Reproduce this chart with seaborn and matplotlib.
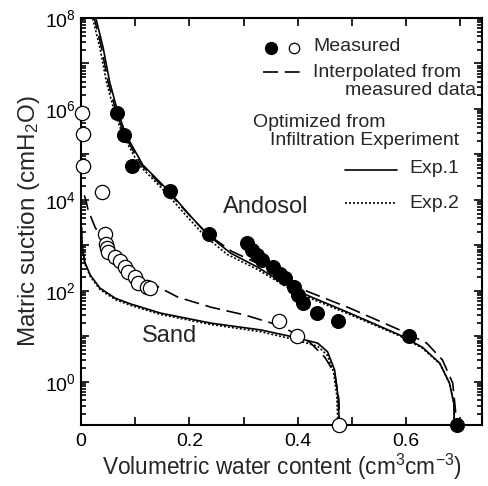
import numpy as np
import pandas as pd
import matplotlib
matplotlib.use("Agg")
import matplotlib.pyplot as plt
from matplotlib.ticker import LogLocator, FixedLocator, NullFormatter
from matplotlib.lines import Line2D
import seaborn as sns

# measured points (volumetric water content, log10 suction)
andosol_x = [0.066, 0.079, 0.094, 0.164, 0.236, 0.306, 0.315, 0.324, 0.334, 0.354,
             0.367, 0.376, 0.394, 0.400, 0.409, 0.435, 0.474, 0.605, 0.693]
andosol_logh = [5.91, 5.43, 4.75, 4.19, 3.25, 3.05, 2.90, 2.79, 2.68, 2.52,
                2.37, 2.28, 2.08, 1.91, 1.73, 1.51, 1.34, 1.01, -0.95]
sand_x = [0.001, 0.004, 0.003, 0.039, 0.044, 0.046, 0.048, 0.050, 0.063, 0.072,
          0.081, 0.087, 0.100, 0.105, 0.122, 0.127, 0.365, 0.398, 0.476]
sand_logh = [5.91, 5.44, 4.75, 4.17, 3.25, 3.03, 2.94, 2.85, 2.74, 2.66,
             2.52, 2.41, 2.30, 2.17, 2.08, 2.06, 1.34, 1.01, -0.95]

# curves
and_exp1_x = [0.026, 0.041, 0.053, 0.068, 0.083, 0.114, 0.164, 0.197, 0.234, 0.276,
              0.326, 0.394, 0.496, 0.588, 0.630, 0.662, 0.680, 0.688, 0.689]
and_exp1_logh = [8.07, 7.34, 6.59, 5.93, 5.43, 4.77, 4.17, 3.71, 3.23, 2.83,
                 2.52, 2.02, 1.51, 1.03, 0.76, 0.41, -0.03, -0.47, -0.95]
and_interp_x = [0.023, 0.038, 0.050, 0.065, 0.080, 0.111, 0.161, 0.195, 0.233, 0.278,
                0.330, 0.394, 0.496, 0.588, 0.638, 0.667, 0.686, 0.691, 0.692]
and_interp_logh = [8.07, 7.34, 6.59, 5.93, 5.43, 4.77, 4.17, 3.73, 3.25, 2.87,
                   2.58, 2.10, 1.62, 1.14, 0.85, 0.48, -0.03, -0.62, -0.95]
and_exp2_x = [0.020, 0.035, 0.047, 0.062, 0.077, 0.107, 0.156, 0.190, 0.228, 0.270,
              0.326, 0.394, 0.496, 0.588, 0.630, 0.662, 0.680, 0.688, 0.689]
and_exp2_logh = [8.07, 7.34, 6.59, 5.93, 5.43, 4.77, 4.17, 3.71, 3.21, 2.80,
                 2.47, 1.98, 1.48, 1.01, 0.74, 0.40, -0.03, -0.47, -0.95]

sand_exp1_x = [0.001, 0.002, 0.007, 0.017, 0.035, 0.063, 0.092, 0.147, 0.240, 0.332,
               0.394, 0.437, 0.455, 0.468, 0.474, 0.477]
sand_exp1_logh = [3.40, 3.01, 2.63, 2.35, 2.06, 1.84, 1.71, 1.51, 1.29, 1.14,
                  0.98, 0.85, 0.66, 0.26, -0.29, -0.95]
sand_interp_x = [0.006, 0.009, 0.013, 0.026, 0.044, 0.074, 0.118, 0.179, 0.240, 0.302,
                 0.363, 0.394, 0.424, 0.450, 0.468, 0.476, 0.477]
sand_interp_logh = [4.10, 4.00, 3.78, 3.40, 3.05, 2.61, 2.24, 1.86, 1.64, 1.47,
                    1.25, 1.07, 0.85, 0.54, 0.19, -0.40, -0.95]
sand_exp2_x = [0.001, 0.002, 0.007, 0.017, 0.035, 0.063, 0.092, 0.147, 0.240, 0.332,
               0.394, 0.437, 0.455, 0.466, 0.472, 0.474]
sand_exp2_logh = [3.37, 2.98, 2.60, 2.32, 2.03, 1.81, 1.68, 1.48, 1.26, 1.10,
                  0.93, 0.78, 0.58, 0.22, -0.30, -0.95]


def to_df(x, logh):
    return pd.DataFrame({"theta": x, "h": 10.0 ** np.array(logh)})


sns.set_theme(style="ticks")
plt.rcParams["font.family"] = ["Liberation Sans", "DejaVu Sans"]
plt.rcParams["mathtext.fontset"] = "custom"
plt.rcParams["mathtext.rm"] = "Liberation Sans"
plt.rcParams["mathtext.it"] = "Liberation Sans:italic"

fig = plt.figure(figsize=(4.89, 4.86), dpi=100)
ax = fig.add_axes([0.1656, 0.1255, 0.8201, 0.8375])
ax.set_yscale("log")

lw = 1.2
dash_style = (0, (9, 4))
dot_style = (0, (1.2, 1.2))
for x, lh, ls in [(and_exp1_x, and_exp1_logh, "-"), (and_interp_x, and_interp_logh, dash_style),
                  (and_exp2_x, and_exp2_logh, dot_style), (sand_exp1_x, sand_exp1_logh, "-"),
                  (sand_interp_x, sand_interp_logh, dash_style), (sand_exp2_x, sand_exp2_logh, dot_style)]:
    sns.lineplot(data=to_df(x, lh), x="theta", y="h", ax=ax, estimator=None, sort=False,
                 color="black", linewidth=lw, linestyle=ls)

sns.scatterplot(data=to_df(andosol_x, andosol_logh), x="theta", y="h", ax=ax,
                color="black", s=100, edgecolor="black", linewidth=0.8, clip_on=False, zorder=5)
sns.scatterplot(data=to_df(sand_x, sand_logh), x="theta", y="h", ax=ax, marker="o",
                facecolor="white", edgecolor="black", s=105, linewidth=0.9, clip_on=False, zorder=5)

ax.set_xlim(0, 0.74)
ax.set_ylim(10 ** -0.95, 1e8)

ax.xaxis.set_major_locator(FixedLocator([0, 0.2, 0.4, 0.6]))
ax.xaxis.set_minor_locator(FixedLocator([0.1, 0.3, 0.5, 0.7]))
ax.set_xticklabels(["0", "0.2", "0.4", "0.6"])
ax.yaxis.set_major_locator(FixedLocator([10.0 ** k for k in range(0, 9)]))
ax.set_yticklabels(["$10^{%d}$" % k if k % 2 == 0 else "" for k in range(0, 9)])
ax.yaxis.set_minor_locator(LogLocator(base=10, subs=np.arange(2, 10), numticks=30))
ax.yaxis.set_minor_formatter(NullFormatter())

ax.tick_params(which="both", direction="in", top=True, right=True, width=1.2, colors="black",
               labelsize=14)
ax.tick_params(which="major", length=6)
ax.tick_params(axis="x", which="minor", length=6)
ax.tick_params(axis="y", which="minor", length=3.5)
ax.tick_params(axis="x", pad=6)
for sp in ax.spines.values():
    sp.set_linewidth(1.5)
    sp.set_color("black")

ax.set_xlabel("Volumetric water content (cm$^3$cm$^{-3}$)", fontsize=16.3, labelpad=1)
ax.set_ylabel("Matric suction (cmH$_2$O)", fontsize=17.5, labelpad=2)

# legend drawn by hand (axes fraction)
tr = ax.transAxes
ax.add_line(Line2D([0.474], [0.926], marker="o", color="black", markersize=8.5, transform=tr))
ax.add_line(Line2D([0.531], [0.926], marker="o", markerfacecolor="white", markeredgecolor="black",
                   markersize=7.5, markeredgewidth=0.9, transform=tr))
ax.text(0.579, 0.929, "Measured", transform=tr, fontsize=14, va="center", ha="left")
ax.add_line(Line2D([0.454, 0.559], [0.867, 0.867], color="black", lw=lw, linestyle=dash_style,
                   transform=tr))
ax.text(0.579, 0.867, "Interpolated from", transform=tr, fontsize=14, va="center", ha="left")
ax.text(0.985, 0.823, "measured data", transform=tr, fontsize=14, va="center", ha="right")
ax.text(0.429, 0.742, "Optimized from", transform=tr, fontsize=14, va="center", ha="left")
ax.text(0.471, 0.700, "Infiltration Experiment", transform=tr, fontsize=14, va="center", ha="left")
ax.add_line(Line2D([0.658, 0.788], [0.627, 0.627], color="black", lw=lw, transform=tr))
ax.text(0.820, 0.629, "Exp.1", transform=tr, fontsize=14, va="center", ha="left")
ax.add_line(Line2D([0.658, 0.788], [0.545, 0.545], color="black", lw=lw, linestyle=dot_style,
                   transform=tr))
ax.text(0.820, 0.545, "Exp.2", transform=tr, fontsize=14, va="center", ha="left")

ax.text(0.461, 0.536, "Andosol", transform=tr, fontsize=17, va="center", ha="center")
ax.text(0.222, 0.219, "Sand", transform=tr, fontsize=17, va="center", ha="center")

fig.savefig("out.png", dpi=100)
